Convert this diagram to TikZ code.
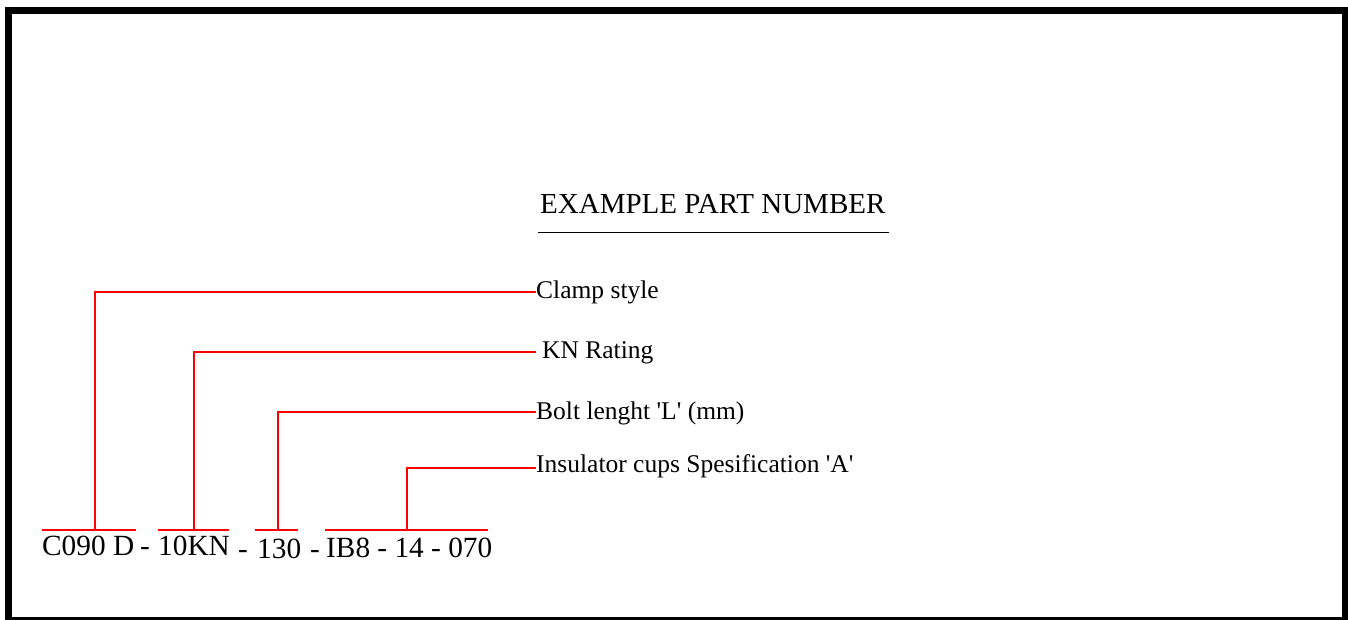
\documentclass[tikz,border=0pt]{standalone}
\usepackage{fontspec}
\setmainfont{Liberation Serif}
\begin{document}
\begin{tikzpicture}[x=1pt,y=-1pt,
  lead/.style={draw=red,line width=2pt},
  frame/.style={draw=black,line width=7pt},
  label/.style={anchor=base west,inner sep=0pt,font=\fontsize{25.5}{30}\selectfont},
  code/.style={anchor=base west,inner sep=0pt,font=\fontsize{29.3}{36}\selectfont},
  title/.style={anchor=base west,inner sep=0pt,font=\fontsize{29}{34}\selectfont}]
\useasboundingbox (0,0) rectangle (1348,619);
\fill[white] (0,0) rectangle (1348,619);
% outer frame
\draw[frame] (8.5,10.5) rectangle (1345.5,620);

% heading
\node[title] (head) at (540,213) {EXAMPLE PART NUMBER};
\coordinate (hl) at (538,232.5);
\coordinate (hr) at (889,232.5);
\draw[line width=1.5pt] (hl) -- (hr);

% the part number, piece by piece
\node[code] (p1) at (42,555) {C090 D};
\node[code] (d1) at (140,555) {-};
\node[code] (p2) at (158,555) {10KN};
\node[code] (d2) at (238,558) {-};
\node[code] (p3) at (257,558) {130};
\node[code] (d3) at (310,558) {-};
\node[code] (p4) at (326,557) {IB8 - 14 - 070};

% brackets over each group
\coordinate (s1a) at (42,529.5);  \coordinate (s1b) at (136,529.5);
\coordinate (s2a) at (158,529.5); \coordinate (s2b) at (229,529.5);
\coordinate (s3a) at (255,529.5); \coordinate (s3b) at (298,529.5);
\coordinate (s4a) at (325,529.5); \coordinate (s4b) at (488,529.5);
\draw[lead] (s1a) -- (s1b);
\draw[lead] (s2a) -- (s2b);
\draw[lead] (s3a) -- (s3b);
\draw[lead] (s4a) -- (s4b);
\coordinate (b1) at (94.5,529.5);
\coordinate (b2) at (193.5,529.5);
\coordinate (b3) at (277.5,529.5);
\coordinate (b4) at (406.5,529.5);

% descriptions
\node[label] (l1) at (536,298) {Clamp style};
\node[label] (l2) at (542,358) {KN Rating};
\node[label] (l3) at (536,419) {Bolt lenght \textquotesingle L\textquotesingle\ (mm)};
\node[label] (l4) at (536,472) {Insulator cups Spesification \textquotesingle A\textquotesingle};
\coordinate (e1) at (536,291.5);
\coordinate (e2) at (536,351.5);
\coordinate (e3) at (536,411.5);
\coordinate (e4) at (536,467.5);

% leader lines
\draw[lead] (e1) -| (b1);
\draw[lead] (e2) -| (b2);
\draw[lead] (e3) -| (b3);
\draw[lead] (e4) -| (b4);
\end{tikzpicture}
\end{document}
